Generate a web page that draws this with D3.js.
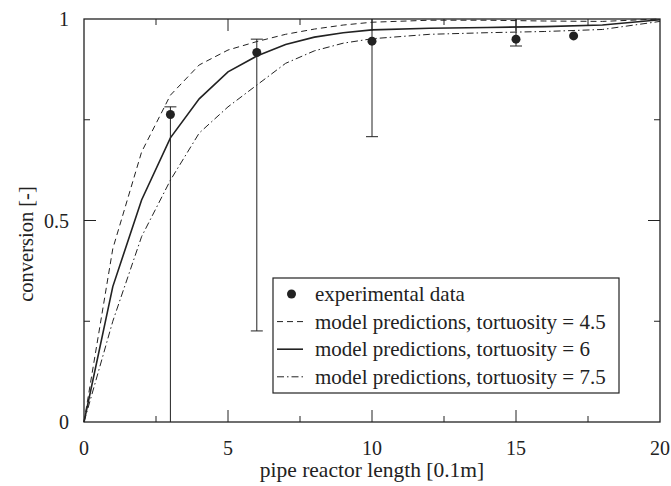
<!DOCTYPE html>
<html lang="en">
<head>
<meta charset="utf-8">
<title>conversion vs pipe reactor length</title>
<script src="https://d3js.org/d3.v7.min.js"></script>
<style type="text/css">
	body { margin: 0; background: #fff; }
	text { font-family: "Liberation Serif", "DejaVu Serif", serif; fill: #222; }
</style>
</head>
<body>
<div id="chart"></div>
<script type="text/javascript">
// experimental data (x, conversion, error bar low/high)
var expX    = [3, 6, 10, 15, 17];
var expY    = [0.763, 0.917, 0.945, 0.950, 0.958];
var expLow  = [0, 0.226, 0.708, 0.933, 0.958];
var expHigh = [0.782, 0.950, 1.0, 1.0, 0.958];

// model curves
var modelX   = [0, 1, 2, 3, 4, 5, 6, 7, 8, 9, 10, 12, 14, 16, 18, 20];
var tort45   = [0, 0.43, 0.67, 0.811, 0.886, 0.923, 0.944, 0.962, 0.975, 0.985, 0.992, 0.997, 0.997, 0.995, 0.994, 1.0];
var tort6    = [0, 0.336, 0.551, 0.705, 0.802, 0.869, 0.908, 0.937, 0.955, 0.966, 0.973, 0.977, 0.979, 0.981, 0.985, 0.998];
var tort75   = [0, 0.25, 0.46, 0.60, 0.717, 0.782, 0.836, 0.89, 0.921, 0.940, 0.951, 0.962, 0.966, 0.969, 0.974, 0.994];

var legendLabels = ["experimental data",
	"model predictions, tortuosity = 4.5",
	"model predictions, tortuosity = 6",
	"model predictions, tortuosity = 7.5"];

var w = 671, h = 486;
var margin = {top: 19, right: 11, bottom: 64, left: 84};
var width = w - margin.left - margin.right,
    height = h - margin.top - margin.bottom;

var svg = d3.select("#chart").append("svg")
	.attr("width", w)
	.attr("height", h)
	.append("g")
	.attr("transform", "translate(" + margin.left + "," + margin.top + ")");

var xScale = d3.scaleLinear().domain([0, 20]).range([0, width]);
var yScale = d3.scaleLinear().domain([0, 1]).range([height, 0]);

var col = "#222";

// ticks, inward on all four sides
function ticks(vals, len, isX) {
	vals.forEach(function (v) {
		if (isX) {
			var x = xScale(v);
			svg.append("line").attr("x1", x).attr("x2", x).attr("y1", height).attr("y2", height - len).attr("stroke", col);
			svg.append("line").attr("x1", x).attr("x2", x).attr("y1", 0).attr("y2", len).attr("stroke", col);
		} else {
			var y = yScale(v);
			svg.append("line").attr("x1", 0).attr("x2", len).attr("y1", y).attr("y2", y).attr("stroke", col);
			svg.append("line").attr("x1", width).attr("x2", width - len).attr("y1", y).attr("y2", y).attr("stroke", col);
		}
	});
}
ticks([5, 10, 15], 12, true);
ticks([2.5, 7.5, 12.5, 17.5], 6, true);
ticks([0.5], 12, false);
ticks([0.25, 0.75], 6, false);

// tick labels
svg.selectAll(".xl").data([0, 5, 10, 15, 20]).enter().append("text")
	.attr("x", function (d) { return xScale(d); })
	.attr("y", height + 33)
	.attr("text-anchor", "middle")
	.style("font-size", "20px")
	.text(function (d) { return d; });

svg.selectAll(".yl").data([0, 0.5, 1]).enter().append("text")
	.attr("x", -15)
	.attr("y", function (d) { return yScale(d) + 7; })
	.attr("text-anchor", "end")
	.style("font-size", "20px")
	.text(function (d) { return d; });

// axis titles
svg.append("text")
	.attr("x", width / 2)
	.attr("y", height + 55)
	.attr("text-anchor", "middle")
	.style("font-size", "21.5px")
	.text("pipe reactor length [0.1m]");

svg.append("text")
	.attr("transform", "rotate(-90)")
	.attr("x", -225)
	.attr("y", -51)
	.attr("text-anchor", "middle")
	.style("font-size", "20.5px")
	.text("conversion [-]");

// curves
var curves = [[tort45, "6,4"], [tort6, null], [tort75, "7,3,1.5,3"]];
var line = d3.line()
	.x(function (d, i) { return xScale(modelX[i]); })
	.y(function (d) { return yScale(d); });

curves.forEach(function (c) {
	svg.append("path")
		.datum(c[0])
		.attr("d", line)
		.attr("fill", "none")
		.attr("stroke", col)
		.attr("stroke-width", c[1] ? 1 : 1.6)
		.attr("stroke-dasharray", c[1]);
});

// error bars
expX.forEach(function (x, i) {
	var px = xScale(x);
	if (expHigh[i] === expLow[i]) return;
	svg.append("line").attr("x1", px).attr("x2", px)
		.attr("y1", yScale(expLow[i])).attr("y2", yScale(expHigh[i]))
		.attr("stroke", col).attr("stroke-width", 1);
	[expLow[i], expHigh[i]].forEach(function (v) {
		if (v <= 0 || v >= 1) return;
		svg.append("line").attr("x1", px - 6).attr("x2", px + 6)
			.attr("y1", yScale(v)).attr("y2", yScale(v))
			.attr("stroke", col).attr("stroke-width", 1);
	});
});

svg.selectAll(".pt").data(expX).enter().append("circle")
	.attr("cx", function (d) { return xScale(d); })
	.attr("cy", function (d, i) { return yScale(expY[i]); })
	.attr("r", 4.5)
	.attr("fill", col);

// frame
svg.append("rect")
	.attr("width", width).attr("height", height)
	.attr("fill", "none").attr("stroke", col).attr("stroke-width", 1.3);

// legend
var legend = svg.append("g")
	.attr("transform", "translate(" + (273 - margin.left) + "," + (278 - margin.top) + ")");

legend.append("rect")
	.attr("width", 346).attr("height", 115)
	.attr("fill", "#fff").attr("stroke", col).attr("stroke-width", 1.2);

var rows = legend.selectAll(".row").data(legendLabels).enter().append("g")
	.attr("transform", function (d, i) { return "translate(0," + (16 + i * 27.6) + ")"; });

rows.append("text")
	.attr("x", 42)
	.attr("y", 7)
	.style("font-size", "21px")
	.text(function (d) { return d; });

rows.each(function (d, i) {
	var g = d3.select(this);
	if (i === 0) {
		g.append("circle").attr("cx", 18.5).attr("cy", 0).attr("r", 4.5).attr("fill", col);
	} else {
		var c = curves[i - 1];
		g.append("line").attr("x1", 4).attr("x2", 30).attr("y1", 0).attr("y2", 0)
			.attr("stroke", col)
			.attr("stroke-width", c[1] ? 1 : 1.6)
			.attr("stroke-dasharray", c[1]);
	}
});
</script>
</body>
</html>
